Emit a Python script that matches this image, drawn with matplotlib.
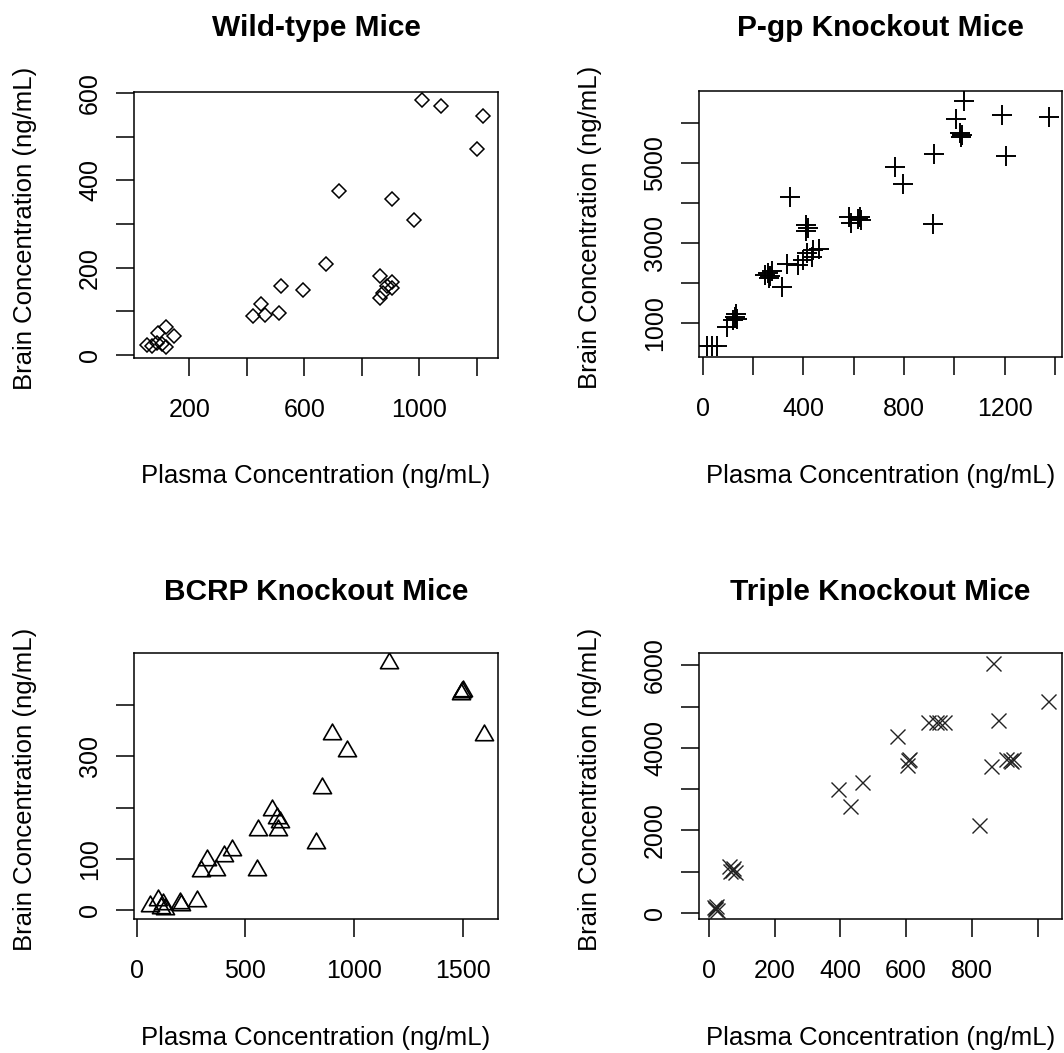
import matplotlib
matplotlib.use("Agg")
import matplotlib.pyplot as plt
from matplotlib.path import Path

plt.rcParams["font.family"] = ["Liberation Sans", "DejaVu Sans"]

# ─── Data ─────────────────────────────────────────────────────────────────────
wt_plasma = [1011, 1075, 1223, 1202, 722, 906, 983, 675, 862, 906, 889, 906,
             875, 862, 519, 594, 450, 421, 463, 513, 118, 90, 146, 118, 54,
             69, 87, 104]
wt_brain = [583, 569, 546, 472, 375, 356, 310, 208, 181, 168, 158, 153,
            141, 130, 157, 149, 116, 89, 92, 97, 63, 51, 43, 18, 23,
            20, 28, 25]

pgp_plasma = [1036, 1005, 1188, 1376, 1020, 1028, 1024, 1204, 917, 764, 795,
              913, 347, 580, 590, 615, 625, 630, 410, 418, 412, 413, 440,
              460, 433, 400, 334, 380, 248, 258, 268, 262, 275, 316, 128, 121,
              136, 134, 95, 16, 36, 55]
pgp_brain = [6558, 6092, 6200, 6158, 5760, 5700, 5650, 5175, 5225, 4892, 4475,
             3475, 4142, 3650, 3500, 3600, 3650, 3570, 3450, 3380, 3300, 2742,
             2825, 2850, 2658, 2575, 2492, 2450, 2200, 2250, 2180, 2120, 2300,
             1908, 1158, 1075, 1117, 1242, 908, 433, 433, 433]

bcrp_plasma = [1162, 1490, 1500, 1497, 1598, 900, 966, 854, 621, 644, 660,
               652, 557, 825, 437, 402, 322, 296, 365, 555, 60, 100, 110,
               120, 130, 200, 205, 280]
bcrp_brain = [483, 422, 428, 425, 341, 344, 310, 238, 196, 180, 173, 157,
              157, 132, 118, 105, 99, 76, 79, 79, 8, 20, 5, 12, 3, 15, 10, 18]

tko_plasma = [865, 1032, 879, 665, 690, 700, 715, 572, 605, 610, 603, 858,
              905, 915, 925, 920, 467, 393, 430, 823, 62, 70, 78, 72, 65,
              15, 18, 22, 20, 25]
tko_brain = [6058, 5128, 4684, 4640, 4640, 4620, 4640, 4296, 3700, 3720, 3580,
             3553, 3720, 3700, 3730, 3680, 3174, 3012, 2584, 2140, 1150, 1050,
             1000, 1100, 1020, 150, 100, 180, 120, 80]

titles = ["Wild-type Mice", "P-gp Knockout Mice",
          "BCRP Knockout Mice", "Triple Knockout Mice"]
xlab = "Plasma Concentration (ng/mL)"
ylab = "Brain Concentration (ng/mL)"

W, H = 1064, 1053
fig = plt.figure(figsize=(W / 100, H / 100), dpi=100)


def px_axes(x0, y0, x1, y1):
    # pixel box (top-left origin) -> figure axes
    return fig.add_axes([x0 / W, 1 - y1 / H, (x1 - x0) / W, (y1 - y0) / H])


def style(ax, xticks, xlabels, yticks, ylabels, xlim, ylim):
    ax.set_xlim(*xlim)
    ax.set_ylim(*ylim)
    ax.set_xticks(xticks, labels=xlabels)
    ax.set_yticks(yticks, labels=ylabels)
    for s in ax.spines.values():
        s.set_linewidth(1.1)
    ax.tick_params(direction="out", length=13, width=1.1, labelsize=18)
    ax.tick_params(axis="x", pad=16)
    ax.tick_params(axis="y", pad=10, labelrotation=90)
    for t in ax.get_yticklabels():
        t.set_va("center")


boxes = [(134, 92, 498, 358), (699, 91, 1062, 357),
         (134, 653, 498, 919), (699, 653, 1062, 919)]
title_ys = [28, 28, 592, 592]
xlab_ys = [476, 476, 1038, 1038]

# ─── Wild-type ────────────────────────────────────────────────────────────────
ax = px_axes(*boxes[0])
ax.plot(wt_plasma, wt_brain, ls="none", marker="D", ms=6.8, mfc="none",
        mec="black", mew=1.1)
style(ax, range(200, 1201, 200), ["200", "", "600", "", "1000", ""],
      range(0, 601, 100), ["0", "", "200", "", "400", "", "600"],
      (7.6, 1274), (-7, 602))

# ─── P-gp ─────────────────────────────────────────────────────────────────────
ax = px_axes(*boxes[1])
ax.plot(pgp_plasma, pgp_brain, ls="none", marker="+", ms=14, mec="black",
        mew=1.4)
style(ax, range(0, 1401, 200), ["0", "", "400", "", "800", "", "1200", ""],
      range(1000, 6001, 1000), ["1000", "", "3000", "", "5000", ""],
      (-14.7, 1427), (157, 6800))

# ─── BCRP ─────────────────────────────────────────────────────────────────────
# equilateral triangle centred on its centroid, like R's pch = 2
tri = Path([(-1, -0.577), (1, -0.577), (0, 1.155), (-1, -0.577)],
           [Path.MOVETO, Path.LINETO, Path.LINETO, Path.CLOSEPOLY])
ax = px_axes(*boxes[2])
ax.plot(bcrp_plasma, bcrp_brain, ls="none", marker=tri, ms=15, mfc="none",
        mec="black", mew=1.2)
style(ax, [0, 500, 1000, 1500], ["0", "500", "1000", "1500"],
      range(0, 401, 100), ["0", "100", "", "300", ""],
      (-12, 1662), (-17, 501.6))

# ─── Triple ───────────────────────────────────────────────────────────────────
ax = px_axes(*boxes[3])
ax.plot(tko_plasma, tko_brain, ls="none", marker="x", ms=10.8, mec="#222222",
        mew=1.0)
style(ax, range(0, 1001, 200), ["0", "200", "400", "600", "800", ""],
      range(0, 6001, 1000), ["0", "", "2000", "", "4000", "", "6000"],
      (-30, 1074), (-145, 6300))

# ─── Titles and axis labels ───────────────────────────────────────────────────
for box, ty, xy, t in zip(boxes, title_ys, xlab_ys, titles):
    x0, y0, x1, y1 = box
    cx = (x0 + x1) / 2
    fig.text(cx / W, 1 - ty / H, t, ha="center", va="center",
             fontsize=21.5, fontweight="bold")
    fig.text(cx / W, 1 - xy / H, xlab, ha="center", va="center",
             fontsize=18.5)
    fig.text((x0 - 109) / W, 1 - ((y0 + y1) / 2 + 3) / H, ylab, ha="center",
             va="center", rotation=90, fontsize=18.5)

fig.savefig("out.png", dpi=100)
